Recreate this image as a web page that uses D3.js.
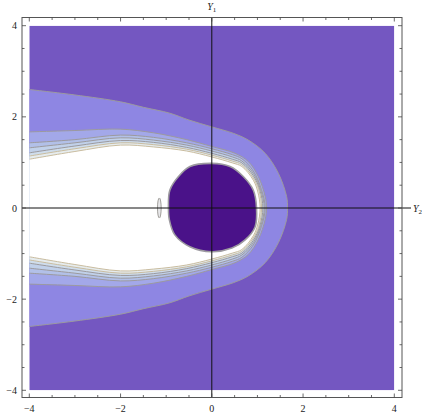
<!DOCTYPE html>
<html><head><meta charset="utf-8">
<script src="https://cdn.jsdelivr.net/npm/d3@7"></script>
<style>body{margin:0;background:#fff}</style></head>
<body><svg id="c" width="422" height="414"></svg>
<script>
// ---- data (upper half of each symmetric contour, in Y2 / Y1 coordinates) ----
const majorTicks = [-4, -2, 0, 2, 4];
const minorTicks = [-3.5, -3, -2.5, -1.5, -1, -0.5, 0.5, 1, 1.5, 2.5, 3, 3.5];
const contourA = [[-4,2.60],[-3,2.48],[-2,2.33],[-1.5,2.21],[-0.92,2.08],[-0.5,1.93],[0,1.78],[0.47,1.64],[0.80,1.49],[1.17,1.20],[1.46,0.76],[1.64,0.25],[1.66,0]];
const contourB = [[-4,1.67],[-3,1.70],[-2,1.73],[-1.28,1.65],[-0.55,1.50],[0,1.35],[0.51,1.20],[0.80,1.02],[1.02,0.69],[1.17,0.25],[1.20,0]];
const contourL4 = [[-4,1.43],[-3,1.50],[-2,1.60],[-1.28,1.55],[-0.55,1.43],[0,1.30],[0.45,1.17],[0.66,1.08],[0.91,0.81],[1.09,0.40],[1.17,0]];
const contourL3 = [[-4,1.32],[-3,1.43],[-2,1.54],[-1.28,1.49],[-0.55,1.38],[0,1.25],[0.45,1.12],[0.66,1.03],[0.91,0.76],[1.07,0.40],[1.15,0]];
const contourL2 = [[-4,1.21],[-3,1.36],[-2,1.48],[-1.28,1.44],[-0.55,1.33],[0,1.20],[0.45,1.07],[0.66,0.99],[0.91,0.71],[1.05,0.40],[1.12,0]];
const contourL1 = [[-4,1.14],[-3,1.30],[-2,1.43],[-1.28,1.39],[-0.55,1.29],[0,1.16],[0.45,1.03],[0.66,0.95],[0.91,0.66],[1.03,0.40],[1.09,0]];
const contourW = [[-4,1.07],[-3,1.24],[-2,1.38],[-1.28,1.34],[-0.55,1.25],[0,1.12],[0.45,0.99],[0.66,0.91],[0.91,0.61],[1.01,0.35],[1.06,0]];
const diskBoundary = [[0,0.98],[0.40,0.91],[0.69,0.69],[0.91,0.39],[0.98,0],[0.95,-0.41],[0.73,-0.70],[0.44,-0.88],[0,-0.96],[-0.48,-0.85],[-0.81,-0.59],[-0.93,-0.26],[-0.95,0],[-0.92,0.39],[-0.73,0.69],[-0.48,0.91]];
const island = {cx: -1.15, cy: 0, rx: 0.04, ry: 0.22};

const bandColors = ["#8e86e3", "#a3a8e9", "#b2c0e8", "#c1d1ea", "#cfddec", "#e6ecee", "#ffffff"];
const contours = [contourA, contourB, contourL4, contourL3, contourL2, contourL1, contourW];

// ---- scales ----
const x = d3.scaleLinear().domain([-4, 4]).range([29.3, 394.3]);
const y = d3.scaleLinear().domain([-4, 4]).range([390.3, 25.7]);
const svg = d3.select("#c");
const frame = {l: 22, r: 402, t: 17.5, b: 397.5};

svg.append("defs").append("clipPath").attr("id", "clip")
  .append("rect").attr("x", x(-4)).attr("y", y(4))
  .attr("width", x(4) - x(-4)).attr("height", y(-4) - y(4));

const g = svg.append("g").attr("clip-path", "url(#clip)");
g.append("rect").attr("x", x(-4)).attr("y", y(4))
  .attr("width", x(4) - x(-4)).attr("height", y(-4) - y(4)).attr("fill", "#7457c1");

const line = d3.line().x(d => x(d[0])).y(d => y(d[1])).curve(d3.curveCatmullRom);
function full(c) {
  const lower = c.slice(0, -1).reverse().map(p => [p[0], -p[1]]);
  return c.concat(lower);
}
contours.forEach((c, i) => {
  g.append("path").attr("d", line(full(c)) + "Z").attr("fill", bandColors[i]);
});
contours.forEach((c, i) => {
  g.append("path").attr("d", line(full(c))).attr("fill", "none")
    .attr("stroke", i >= 5 ? "#c9bc9f" : "#9c9a9e").attr("stroke-width", 1);
});

// disk
g.append("path").attr("d", d3.line().x(d => x(d[0])).y(d => y(d[1])).curve(d3.curveCatmullRomClosed)(diskBoundary))
  .attr("fill", "#4a1289").attr("stroke", "#9d9aa0").attr("stroke-width", 1.6);

// small island
g.append("ellipse").attr("cx", x(island.cx)).attr("cy", y(island.cy))
  .attr("rx", x(island.rx) - x(0)).attr("ry", y(0) - y(island.ry))
  .attr("fill", "#e8e8ea").attr("stroke", "#a09e9a").attr("stroke-width", 1);

// axes lines
svg.append("line").attr("x1", x(0)).attr("x2", x(0)).attr("y1", frame.t).attr("y2", frame.b)
  .attr("stroke", "#111").attr("stroke-width", 1);
svg.append("line").attr("x1", frame.l).attr("x2", 411).attr("y1", y(0)).attr("y2", y(0))
  .attr("stroke", "#111").attr("stroke-width", 1);

// frame
svg.append("rect").attr("x", frame.l).attr("y", frame.t)
  .attr("width", frame.r - frame.l).attr("height", frame.b - frame.t)
  .attr("fill", "none").attr("stroke", "#555").attr("stroke-width", 1);

// ticks
const tk = svg.append("g").attr("stroke", "#444").attr("stroke-width", 0.8);
function ticks(vals, len) {
  vals.forEach(v => {
    tk.append("line").attr("x1", x(v)).attr("x2", x(v)).attr("y1", frame.b).attr("y2", frame.b - len);
    tk.append("line").attr("x1", x(v)).attr("x2", x(v)).attr("y1", frame.t).attr("y2", frame.t + len);
    tk.append("line").attr("y1", y(v)).attr("y2", y(v)).attr("x1", frame.l).attr("x2", frame.l + len);
    tk.append("line").attr("y1", y(v)).attr("y2", y(v)).attr("x1", frame.r).attr("x2", frame.r - len);
  });
}
ticks(majorTicks, 4);
ticks(minorTicks, 2.5);

const fmt = v => v < 0 ? "\u2212" + Math.abs(v) : String(v);
const font = "Liberation Serif, Times New Roman, serif";
svg.append("g").selectAll("text").data(majorTicks).join("text")
  .attr("x", d => x(d)).attr("y", 411.5).attr("text-anchor", "middle")
  .attr("font-family", font).attr("font-size", 10).attr("fill", "#222").text(fmt);
svg.append("g").selectAll("text").data(majorTicks).join("text")
  .attr("x", 17).attr("y", d => y(d) + 3.5).attr("text-anchor", "end")
  .attr("font-family", font).attr("font-size", 10).attr("fill", "#222").text(fmt);

function axisLabel(px, py, sub, anchor) {
  const t = svg.append("text").attr("x", px).attr("y", py).attr("text-anchor", anchor)
    .attr("font-family", font).attr("font-size", 10).attr("fill", "#222");
  t.append("tspan").attr("font-style", "italic").text("Y");
  t.append("tspan").attr("font-size", 7).attr("dy", 2).text(sub);
}
axisLabel(x(0), 9.5, "1", "middle");
axisLabel(413, y(0) + 4, "2", "start");
</script></body></html>
